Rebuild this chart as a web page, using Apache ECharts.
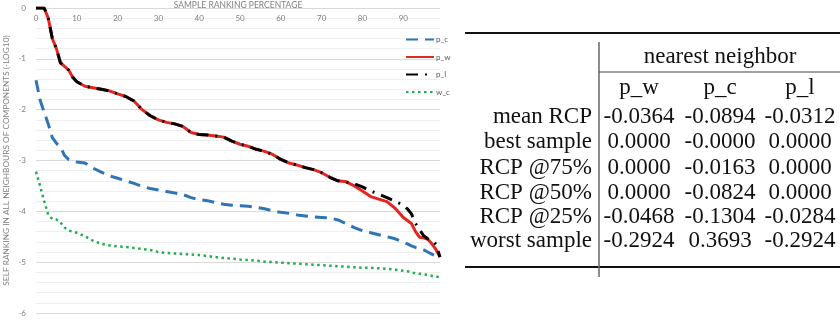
<!DOCTYPE html>
<html>
<head>
<meta charset="utf-8">
<script src="https://cdn.jsdelivr.net/npm/echarts@6/dist/echarts.min.js"></script>
<style>
html,body{margin:0;padding:0;background:#fff;}
#c{width:840px;height:320px;}
</style>
</head>
<body>
<div id="c"></div>
<script>
// ---- chart data ----
const xs = [0,1,2,3,4,5,6,7,8,9,10,12,14,16,18,20,22,24,26,28,30,32,34,36,38,40,42,44,46,48,50,52,54,56,58,60,62,64,66,68,70,72,74,76,78,80,82,84,86,88,90,91,92,93,94,95,96,97,98,99];
const p_c = [-1.42,-1.81,-2.05,-2.28,-2.55,-2.66,-2.74,-2.9,-2.98,-3.01,-3.03,-3.05,-3.15,-3.23,-3.3,-3.35,-3.4,-3.45,-3.51,-3.55,-3.58,-3.61,-3.64,-3.67,-3.73,-3.77,-3.79,-3.83,-3.86,-3.88,-3.89,-3.9,-3.92,-3.95,-3.99,-4.02,-4.04,-4.07,-4.09,-4.11,-4.12,-4.13,-4.17,-4.24,-4.32,-4.38,-4.42,-4.46,-4.5,-4.54,-4.61,-4.64,-4.68,-4.71,-4.73,-4.76,-4.8,-4.84,-4.88,-4.92];
const p_w = [0,0,0,-0.2,-0.6,-0.8,-1.08,-1.15,-1.22,-1.36,-1.45,-1.54,-1.57,-1.6,-1.63,-1.69,-1.74,-1.83,-2.0,-2.12,-2.2,-2.25,-2.28,-2.33,-2.45,-2.49,-2.5,-2.52,-2.54,-2.62,-2.68,-2.72,-2.78,-2.82,-2.88,-2.98,-3.05,-3.09,-3.14,-3.18,-3.24,-3.33,-3.4,-3.42,-3.5,-3.6,-3.71,-3.76,-3.81,-3.94,-4.12,-4.18,-4.24,-4.4,-4.51,-4.52,-4.55,-4.64,-4.75,-4.9];
const p_l = [0,0,0,-0.2,-0.6,-0.8,-1.08,-1.15,-1.22,-1.36,-1.45,-1.54,-1.57,-1.6,-1.63,-1.69,-1.74,-1.83,-2.0,-2.12,-2.2,-2.25,-2.28,-2.33,-2.45,-2.49,-2.5,-2.52,-2.54,-2.62,-2.68,-2.72,-2.78,-2.82,-2.88,-2.98,-3.05,-3.09,-3.14,-3.18,-3.24,-3.33,-3.4,-3.42,-3.46,-3.52,-3.6,-3.66,-3.73,-3.8,-3.88,-3.95,-4.05,-4.24,-4.36,-4.48,-4.54,-4.56,-4.65,-4.9];
const w_c = [-3.22,-3.5,-3.8,-4.07,-4.15,-4.16,-4.22,-4.32,-4.38,-4.4,-4.42,-4.49,-4.58,-4.64,-4.67,-4.69,-4.7,-4.72,-4.74,-4.76,-4.8,-4.82,-4.83,-4.84,-4.85,-4.86,-4.88,-4.9,-4.92,-4.93,-4.95,-4.96,-4.97,-4.99,-5.0,-5.01,-5.02,-5.03,-5.04,-5.05,-5.06,-5.07,-5.08,-5.09,-5.1,-5.11,-5.11,-5.12,-5.13,-5.15,-5.17,-5.18,-5.2,-5.22,-5.23,-5.24,-5.25,-5.27,-5.28,-5.3];
const seriesNames = ['p_c','p_w','p_l','w_c'];
const xAxisTitle = 'SAMPLE RANKING PERCENTAGE';
const yAxisTitle = 'SELF RANKING IN ALL NEIGHBOURS OF COMPONENTS (-LOG10)';

// ---- table data ----
const tableGroupHeader = 'nearest neighbor';
const tableColHeaders = ['p_w','p_c','p_l'];
const tableRowLabels = ['mean RCP','best sample','RCP @75%','RCP @50%','RCP @25%','worst sample'];
const tableValues = [
  ['-0.0364','-0.0894','-0.0312'],
  ['0.0000','-0.0000','0.0000'],
  ['0.0000','-0.0163','0.0000'],
  ['0.0000','-0.0824','0.0000'],
  ['-0.0468','-0.1304','-0.0284'],
  ['-0.2924','0.3693','-0.2924']
];

const pairs = arr => xs.map((x,i) => [x, arr[i]]);
const chart = echarts.init(document.getElementById('c'), null, {renderer:'canvas'});

const styles = {
  p_c: {color:'#2e75b6', width:3, type:[12,7]},
  p_w: {color:'#e3261f', width:3, type:'solid'},
  p_l: {color:'#000000', width:3, type:[12,7,2,7]},
  w_c: {color:'#1fae4e', width:2.5, type:[2.5,3.5]}
};
const dataMap = {p_c, p_w, p_l, w_c};

// table graphics
const serif = '"Liberation Serif", "DejaVu Serif", serif';
const fs = 23;
const colX = [639, 720, 800];
const rowY = [117, 142, 168, 193, 217, 241];
const graphics = [];
graphics.push({type:'line', shape:{x1:465,y1:33,x2:840,y2:33}, style:{stroke:'#111',lineWidth:2}});
graphics.push({type:'line', shape:{x1:465,y1:267,x2:840,y2:267}, style:{stroke:'#111',lineWidth:2}});
graphics.push({type:'line', shape:{x1:599,y1:42,x2:599,y2:277}, style:{stroke:'#666',lineWidth:1.5}});
graphics.push({type:'line', shape:{x1:599,y1:72,x2:840,y2:72}, style:{stroke:'#444',lineWidth:1.2}});
graphics.push({type:'text', x:720, y:57, style:{text:tableGroupHeader, font:fs+'px '+serif, fill:'#111', align:'center', verticalAlign:'middle'}});
tableColHeaders.forEach((t,j)=>graphics.push({type:'text', x:colX[j], y:88, style:{text:t, font:fs+'px '+serif, fill:'#111', align:'center', verticalAlign:'middle'}}));
tableRowLabels.forEach((t,i)=>{
  graphics.push({type:'text', x:592, y:rowY[i], style:{text:t, font:fs+'px '+serif, fill:'#111', align:'right', verticalAlign:'middle'}});
  tableValues[i].forEach((v,j)=>graphics.push({type:'text', x:colX[j], y:rowY[i], style:{text:v, font:fs+'px '+serif, fill:'#111', align:'center', verticalAlign:'middle'}}));
});

const sans = 'Lato, "Open Sans", sans-serif';
chart.setOption({
  animation:false,
  backgroundColor:'#ffffff',
  grid:{left:36, right:400, top:8, bottom:7, outerBoundsMode:'none', containLabel:false},
  legend:{
    data:seriesNames, orient:'vertical', left:405, top:35, padding:0,
    itemWidth:28, itemHeight:9, itemGap:8.5,
    itemStyle:{opacity:0, borderWidth:0},
    textStyle:{fontSize:8, color:'#595959', fontFamily:sans, padding:[0,0,0,-3], lineHeight:9}
  },
  xAxis:{
    type:'value', position:'top', min:0, max:99, interval:10,
    name:xAxisTitle, nameLocation:'middle', nameGap:3, nameMoveOverlap:false,
    nameTextStyle:{fontSize:8.5, color:'#7f7f7f', fontFamily:sans, verticalAlign:'middle'},
    axisLine:{show:false}, axisTick:{show:false}, splitLine:{show:false},
    axisLabel:{inside:true, margin:6, fontSize:8, color:'#7f7f7f', fontFamily:sans, showMaxLabel:false}
  },
  yAxis:{
    type:'value', min:-6, max:0, interval:1,
    name:yAxisTitle, nameLocation:'middle', nameGap:26, nameRotate:90,
    nameTextStyle:{fontSize:8.3, color:'#7f7f7f', fontFamily:sans},
    axisLine:{show:false}, axisTick:{show:false},
    axisLabel:{margin:10, fontSize:8, color:'#7f7f7f', fontFamily:sans},
    splitLine:{show:true, lineStyle:{color:'#d9d9d9', width:1}},
    minorTick:{show:false, splitNumber:5},
    minorSplitLine:{show:true, lineStyle:{color:'#efefef', width:1}}
  },
  series: seriesNames.map(n => ({
    name:n, type:'line', data:pairs(dataMap[n]),
    symbol:'none', showSymbol:false, smooth:false,
    lineStyle:{color:styles[n].color, width:styles[n].width, type:styles[n].type},
    itemStyle:{color:styles[n].color},
    z: n==='p_l' ? 4 : 3
  })),
  graphic: graphics
});
</script>
</body>
</html>
